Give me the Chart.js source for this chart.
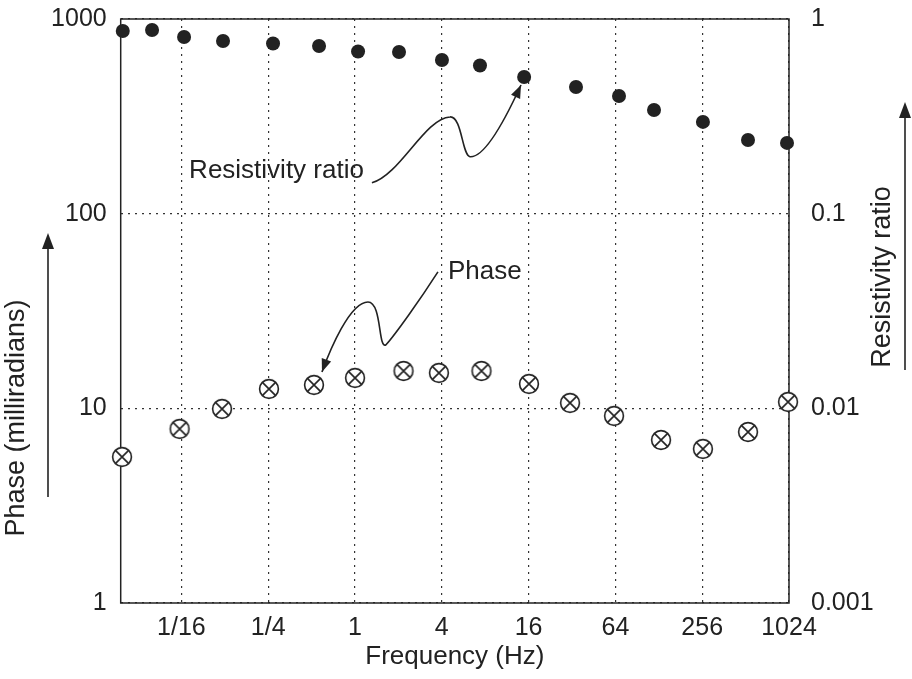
<!DOCTYPE html>
<html>
<head>
<meta charset="utf-8">
<script src="https://cdn.jsdelivr.net/npm/chart.js@4"></script>
<style>
  body { margin: 0; background: #fff; }
  #wrap { width: 912px; height: 679px; position: relative; }
</style>
</head>
<body>
<div id="wrap"><canvas id="myChart"></canvas></div>
<script>
// frequency (Hz) of each phase reading, and the phase in milliradians
const phaseFreq = [0.0242, 0.0607, 0.1196, 0.253, 0.519, 1.0, 2.17, 3.82, 7.54, 16.1, 31.0, 62.6, 132.6, 259, 532, 1008];
const phaseValues = [5.63, 7.84, 9.93, 12.58, 13.19, 14.33, 15.56, 15.2, 15.56, 13.35, 10.66, 9.14, 6.88, 6.19, 7.56, 10.79];

// frequency (Hz) of each resistivity reading, and the resistivity ratio
const ratioFreq = [0.0245, 0.0391, 0.0652, 0.1215, 0.27, 0.563, 1.05, 2.02, 4.01, 7.36, 14.9, 34.1, 67.8, 118.6, 259, 532, 992];
const ratioValues = [0.868, 0.878, 0.808, 0.771, 0.748, 0.727, 0.681, 0.677, 0.616, 0.577, 0.504, 0.447, 0.402, 0.341, 0.296, 0.239, 0.231];

const freqTicks = [1/16, 1/4, 1, 4, 16, 64, 256, 1024];
const freqTickLabels = ['1/16', '1/4', '1', '4', '16', '64', '256', '1024'];
const phaseTicks = [1, 10, 100, 1000];
const ratioTicks = [0.001, 0.01, 0.1, 1];
const ratioTickLabels = ['0.001', '0.01', '0.1', '1'];

// callout curves, as [frequency, phase units] points: start, then bezier triples
const ratioCallout = [[1.31, 144], [2.05, 158], [3.06, 310], [4.56, 314], [5.52, 317], [5.52, 200], [6.27, 196], [7.98, 193], [10.98, 303], [14.17, 458]];
const phaseCallout = [[3.76, 50.2], [2.82, 36.0], [1.89, 23.8], [1.64, 21.2], [1.444, 19.95], [1.54, 35.2], [1.23, 35.2], [0.923, 35.2], [0.671, 19.95], [0.59, 15.38]];

const INK = '#222';
Chart.defaults.font.family = '"Liberation Sans", Arial, sans-serif';
Chart.defaults.color = INK;

// open circle with a cross, for the phase points
function crossCircle() {
  const c = document.createElement('canvas');
  c.width = 24; c.height = 24;
  const g = c.getContext('2d');
  g.strokeStyle = INK; g.lineWidth = 1.6; g.fillStyle = '#fff';
  g.beginPath(); g.arc(12, 12, 9.4, 0, Math.PI * 2); g.fill(); g.stroke();
  const d = 9.4 * Math.SQRT1_2;
  g.beginPath();
  g.moveTo(12 - d, 12 - d); g.lineTo(12 + d, 12 + d);
  g.moveTo(12 + d, 12 - d); g.lineTo(12 - d, 12 + d);
  g.stroke();
  return c;
}

function arrowHead(ctx, x0, y0, x1, y1, len, half) {
  const ang = Math.atan2(y1 - y0, x1 - x0);
  ctx.beginPath();
  ctx.moveTo(x1, y1);
  ctx.lineTo(x1 - len * Math.cos(ang) + half * Math.sin(ang), y1 - len * Math.sin(ang) - half * Math.cos(ang));
  ctx.lineTo(x1 - len * Math.cos(ang) - half * Math.sin(ang), y1 - len * Math.sin(ang) + half * Math.cos(ang));
  ctx.closePath();
  ctx.fill();
}

const decor = {
  id: 'decor',
  beforeDatasetsDraw(chart) {
    const {ctx, chartArea: a} = chart;
    ctx.save();
    ctx.strokeStyle = INK; ctx.lineWidth = 1.5;
    ctx.strokeRect(a.left, a.top, a.right - a.left, a.bottom - a.top);
    ctx.restore();
  },
  afterDatasetsDraw(chart) {
    const {ctx} = chart;
    const xs = chart.scales.x, ys = chart.scales.y;
    const px = p => [xs.getPixelForValue(p[0]), ys.getPixelForValue(p[1])];
    ctx.save();
    ctx.strokeStyle = INK; ctx.fillStyle = INK; ctx.lineWidth = 1.6;

    function callout(path, text, side) {
      const pts = path.map(px);
      ctx.beginPath();
      ctx.moveTo(pts[0][0], pts[0][1]);
      for (let i = 1; i + 2 < pts.length; i += 3) {
        ctx.bezierCurveTo(pts[i][0], pts[i][1], pts[i+1][0], pts[i+1][1], pts[i+2][0], pts[i+2][1]);
      }
      ctx.stroke();
      const n = pts.length;
      arrowHead(ctx, pts[n-2][0], pts[n-2][1], pts[n-1][0], pts[n-1][1], 13, 5);
      ctx.font = '26px "Liberation Sans", Arial, sans-serif';
      if (side === 'left') {
        ctx.textAlign = 'right'; ctx.textBaseline = 'alphabetic';
        ctx.fillText(text, pts[0][0] - 8, pts[0][1] - 5);
      } else {
        ctx.textAlign = 'left'; ctx.textBaseline = 'middle';
        ctx.fillText(text, pts[0][0] + 10, pts[0][1]);
      }
    }
    callout(ratioCallout, 'Resistivity ratio', 'left');
    callout(phaseCallout, 'Phase', 'right');

    // axis titles with their arrows
    ctx.font = '27px "Liberation Sans", Arial, sans-serif';
    ctx.textAlign = 'center'; ctx.textBaseline = 'middle';
    [[17, 418, 'Phase (milliradians)'], [883, 277, 'Resistivity ratio']].forEach(t => {
      ctx.save();
      ctx.translate(t[0], t[1]);
      ctx.rotate(-Math.PI / 2);
      ctx.fillText(t[2], 0, 0);
      ctx.restore();
    });
    [[48, 497, 233], [905, 370, 102]].forEach(r => {
      ctx.beginPath();
      ctx.moveTo(r[0], r[1]); ctx.lineTo(r[0], r[2] + 10);
      ctx.stroke();
      arrowHead(ctx, r[0], r[1], r[0], r[2], 16, 6);
    });
    ctx.restore();
  }
};

const gridStyle = {color: '#333', lineWidth: 1.2, drawTicks: false};
const dotted = [2, 5];

function fitSide(width) {
  return s => { s.width = width; s.paddingTop = 0; s.paddingBottom = 0; };
}

const config = {
  type: 'scatter',
  data: {
    datasets: [
      {
        label: 'Phase',
        data: phaseFreq.map((f, i) => ({x: f, y: phaseValues[i]})),
        yAxisID: 'y',
        pointStyle: crossCircle(),
        pointRadius: 10,
        clip: false
      },
      {
        label: 'Resistivity ratio',
        data: ratioFreq.map((f, i) => ({x: f, y: ratioValues[i]})),
        yAxisID: 'y2',
        pointStyle: 'circle',
        pointRadius: 7,
        pointBackgroundColor: INK,
        pointBorderColor: INK,
        pointBorderWidth: 0,
        clip: false
      }
    ]
  },
  options: {
    responsive: true,
    maintainAspectRatio: false,
    animation: false,
    events: [],
    layout: {padding: {top: 19, left: 0, right: 0, bottom: 0}},
    plugins: {legend: {display: false}, tooltip: {enabled: false}},
    scales: {
      x: {
        type: 'logarithmic',
        min: 0.0237,
        max: 1024,
        afterBuildTicks: s => { s.ticks = freqTicks.map(v => ({value: v})); },
        afterFit: s => { s.height = 76; s.paddingLeft = 0; s.paddingRight = 0; },
        ticks: {
          autoSkip: false, maxRotation: 0, padding: 10,
          font: {size: 25},
          callback: v => freqTickLabels[freqTicks.indexOf(v)]
        },
        grid: Object.assign({}, gridStyle),
        border: {display: false, dash: dotted},
        title: {display: true, text: 'Frequency (Hz)', font: {size: 26}, padding: {top: 0, bottom: 7}}
      },
      y: {
        type: 'logarithmic',
        position: 'left',
        min: 1,
        max: 1000,
        afterBuildTicks: s => { s.ticks = phaseTicks.map(v => ({value: v})); },
        afterFit: fitSide(120.7),
        ticks: {
          padding: 14,
          font: {size: 25},
          callback: v => String(v)
        },
        grid: Object.assign({}, gridStyle),
        border: {display: false, dash: dotted}
      },
      y2: {
        type: 'logarithmic',
        position: 'right',
        min: 0.001,
        max: 1,
        afterBuildTicks: s => { s.ticks = ratioTicks.map(v => ({value: v})); },
        afterFit: fitSide(123),
        ticks: {
          padding: 22,
          font: {size: 25},
          callback: v => ratioTickLabels[ratioTicks.indexOf(v)]
        },
        grid: {display: false, drawTicks: false},
        border: {display: false}
      }
    }
  },
  plugins: [decor]
};

const myChart = new Chart(document.getElementById('myChart'), config);
</script>
</body>
</html>
